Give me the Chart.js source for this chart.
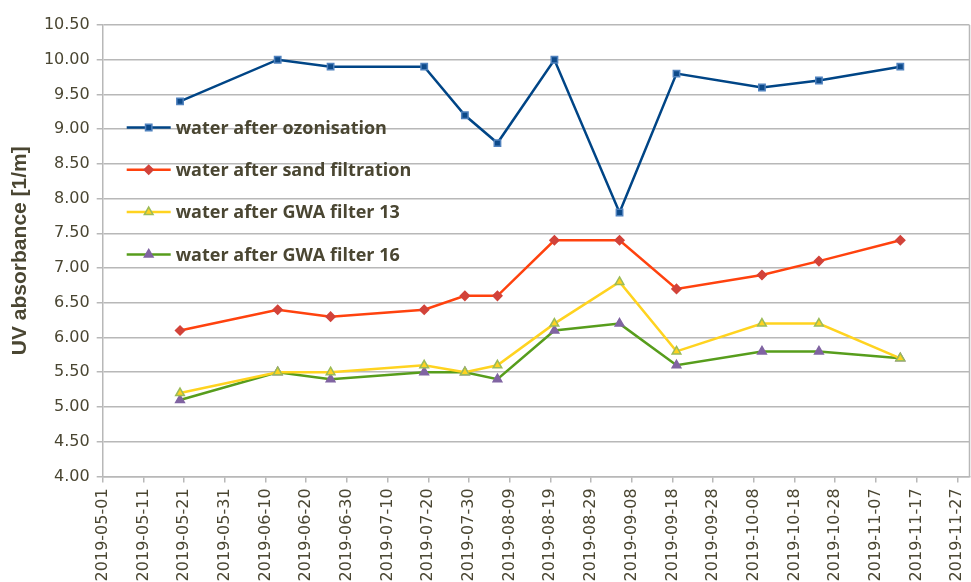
<!DOCTYPE html>
<html>
<head>
<meta charset="utf-8">
<script src="https://cdn.jsdelivr.net/npm/chart.js@4/dist/chart.umd.min.js"></script>
<style>
html,body{margin:0;padding:0;background:#fff;overflow:hidden;}
#wrap{width:971px;height:582px;position:relative;overflow:hidden;}
</style>
</head>
<body>
<div id="wrap"><canvas id="c" width="976" height="582"></canvas></div>
<script>
// ---- data ----
const sampleDates = ["2019-05-20","2019-06-13","2019-06-26","2019-07-19","2019-07-29","2019-08-06","2019-08-20","2019-09-05","2019-09-19","2019-10-10","2019-10-24","2019-11-13"];
const ozonisation = [9.4, 10.0, 9.9, 9.9, 9.2, 8.8, 10.0, 7.8, 9.8, 9.6, 9.7, 9.9];
const sandFiltration = [6.1, 6.4, 6.3, 6.4, 6.6, 6.6, 7.4, 7.4, 6.7, 6.9, 7.1, 7.4];
const gwaFilter13 = [5.2, 5.5, 5.5, 5.6, 5.5, 5.6, 6.2, 6.8, 5.8, 6.2, 6.2, 5.7];
const gwaFilter16 = [5.1, 5.5, 5.4, 5.5, 5.5, 5.4, 6.1, 6.2, 5.6, 5.8, 5.8, 5.7];
const seriesNames = ["water after ozonisation","water after sand filtration","water after GWA filter 13","water after GWA filter 16"];
const xTickLabels = ["2019-05-01","2019-05-11","2019-05-21","2019-05-31","2019-06-10","2019-06-20","2019-06-30","2019-07-10","2019-07-20","2019-07-30","2019-08-09","2019-08-19","2019-08-29","2019-09-08","2019-09-18","2019-09-28","2019-10-08","2019-10-18","2019-10-28","2019-11-07","2019-11-17","2019-11-27"];
const xAxisEnd = "2019-11-30";
const yTitle = "UV absorbance [1/m]";

const ORIGIN = Date.UTC(2019,4,1);
function dayOf(s){const p=s.split('-').map(Number);return Math.round((Date.UTC(p[0],p[1]-1,p[2])-ORIGIN)/86400000);}
function labelOf(d){const t=new Date(ORIGIN+d*86400000);return t.toISOString().slice(0,10);}
function pts(vals){return vals.map((v,i)=>({x:dayOf(sampleDates[i]),y:v}));}

const textColor = '#4a4632';
const gridColor = '#b8b8b8';

const styles = [
  {line:'#004586', fill:'#0d4a8a', border:'#4f81bd', style:'rect', r:4.5},
  {line:'#ff420e', fill:'#d2433a', border:'#d2433a', style:'rectRot', r:4.5},
  {line:'#ffd320', fill:'#ffd320', border:'#9bbb59', style:'triangle', r:5},
  {line:'#579d1c', fill:'#8064a2', border:'#8064a2', style:'triangle', r:5}
];
const allVals = [ozonisation, sandFiltration, gwaFilter13, gwaFilter16];

const datasets = allVals.map((vals,i)=>({
  label: seriesNames[i],
  data: pts(vals),
  borderColor: styles[i].line,
  backgroundColor: styles[i].fill,
  pointBackgroundColor: styles[i].fill,
  pointBorderColor: styles[i].border,
  pointBorderWidth: 1.5,
  pointStyle: styles[i].style,
  pointRadius: styles[i].r,
  borderWidth: 2.5,
  tension: 0,
  fill: false
}));

const framePlugin = {
  id:'frame',
  beforeDatasetsDraw(chart){
    const a = chart.chartArea, ctx = chart.ctx;
    ctx.save();
    ctx.strokeStyle = gridColor; ctx.lineWidth = 1.5;
    ctx.beginPath(); ctx.moveTo(a.right, a.top); ctx.lineTo(a.right, a.bottom); ctx.stroke();
    ctx.restore();
  },
  afterDatasetsDraw(chart){
    const a = chart.chartArea, ctx = chart.ctx;
    ctx.save();
    const x0 = a.left + 24, lineLen = 44, gap = 42.3, y0 = a.top + 102.5;
    chart.data.datasets.forEach((ds,i)=>{
      const y = y0 + i*gap;
      ctx.strokeStyle = ds.borderColor; ctx.lineWidth = 2.5;
      ctx.beginPath(); ctx.moveTo(x0, y); ctx.lineTo(x0+lineLen, y); ctx.stroke();
      ctx.fillStyle = ds.pointBackgroundColor; ctx.strokeStyle = ds.pointBorderColor; ctx.lineWidth = ds.pointBorderWidth;
      Chart.helpers.drawPoint(ctx, {pointStyle: ds.pointStyle, radius: ds.pointRadius, borderWidth: ds.pointBorderWidth, rotation:0}, x0+lineLen/2, y);
      ctx.fillStyle = textColor;
      ctx.font = 'bold 18px "Open Sans"';
      ctx.textBaseline = 'middle'; ctx.textAlign = 'left';
      ctx.fillText(ds.label, x0+lineLen+5, y+1);
    });
    ctx.restore();
  }
};

new Chart(document.getElementById('c'), {
  type:'line',
  data:{datasets},
  plugins:[framePlugin],
  options:{
    responsive:false,
    animation:false,
    layout:{padding:{top:25, right:1, left:0, bottom:0}},
    plugins:{legend:{display:false}, tooltip:{enabled:false}},
    scales:{
      x:{
        type:'linear',
        min:0, max:dayOf(xAxisEnd),
        afterBuildTicks(scale){ scale.ticks = xTickLabels.map(s=>({value:dayOf(s)})); },
        afterFit(scale){ scale.height = 105.6; scale.paddingRight = 0; scale.paddingLeft = 0; },
        ticks:{
          autoSkip:false, minRotation:90, maxRotation:90, padding:6,
          color:textColor, font:{family:'"DejaVu Sans"', size:16},
          callback:(v)=>labelOf(v)
        },
        grid:{drawOnChartArea:false, drawTicks:true, tickLength:6, color:gridColor, lineWidth:1.5},
        border:{color:gridColor, width:1.5}
      },
      y:{
        min:4, max:10.5,
        afterFit(scale){ scale.width = 102.7; scale.paddingTop = 0; scale.paddingBottom = 0; },
        ticks:{stepSize:0.5, padding:7, color:textColor, font:{family:'"DejaVu Sans"', size:16}, callback:(v)=>Number(v).toFixed(2)},
        grid:{color:gridColor, lineWidth:1.5, tickLength:6, drawTicks:true},
        border:{color:gridColor, width:1.5},
        title:{display:true, text:yTitle, color:textColor, font:{family:'"Liberation Sans"', size:21, weight:'bold'}, padding:{top:8,bottom:0}}
      }
    }
  }
});
</script>
</body>
</html>
